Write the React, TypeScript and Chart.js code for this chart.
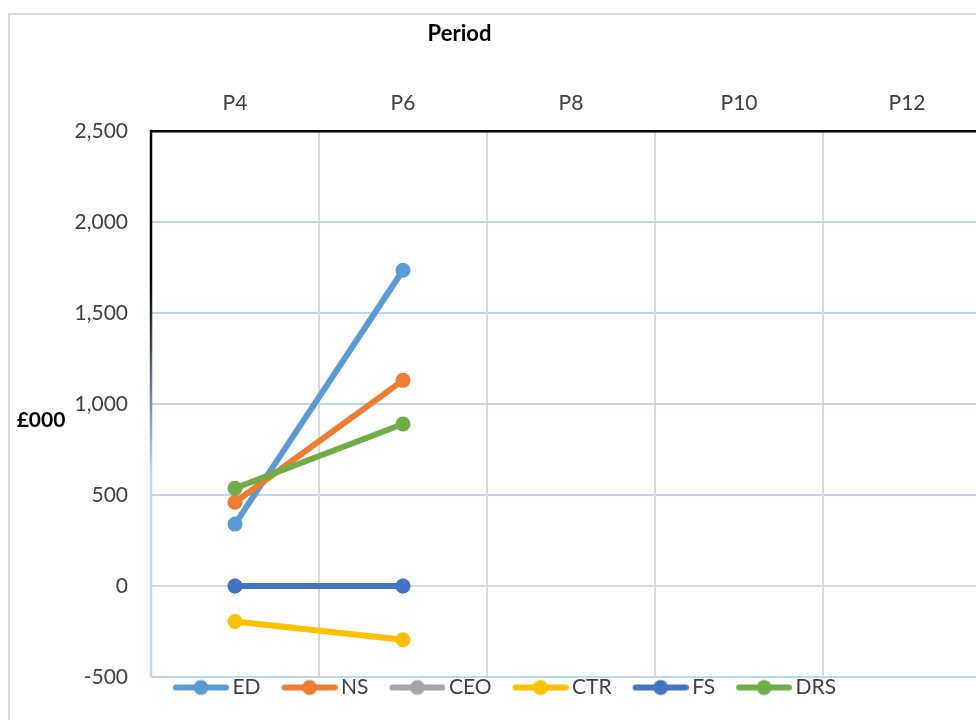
import React, { useEffect, useRef } from "react";
import { Chart, registerables } from "chart.js";

Chart.register(...registerables);

const periods = ["P4", "P6", "P8", "P10", "P12"];
const seriesNames = ["ED", "NS", "CEO", "CTR", "FS", "DRS"];
const seriesColors = ["#5B9BD5", "#ED7D31", "#A5A5A5", "#FFC000", "#4472C4", "#70AD47"];
const edValues = [340, 1735, null, null, null];
const nsValues = [460, 1130, null, null, null];
const ceoValues = [0, 0, null, null, null];
const ctrValues = [-195, -295, null, null, null];
const fsValues = [0, 0, null, null, null];
const drsValues = [537, 890, null, null, null];
const yMin = -500;
const yMax = 2500;
const yStep = 500;
const xTitle = "Period";
const yTitle = "£000";

const FONT = "Lato, 'Open Sans', sans-serif";
const TEXT = "#404040";

function makeLegendIcon(color: string) {
  const c = document.createElement("canvas");
  c.width = 84;
  c.height = 18;
  const g = c.getContext("2d")!;
  g.strokeStyle = color;
  g.lineWidth = 6;
  g.lineCap = "round";
  g.beginPath();
  g.moveTo(31, 9);
  g.lineTo(81, 9);
  g.stroke();
  g.fillStyle = color;
  g.beginPath();
  g.arc(56, 9, 7.5, 0, Math.PI * 2);
  g.fill();
  return c;
}

const decorPlugin = {
  id: "decor",
  afterDraw(chart: any) {
    const { ctx, chartArea: a } = chart;
    ctx.save();
    const grad = ctx.createLinearGradient(0, a.top, 0, a.bottom);
    grad.addColorStop(0, "#000000");
    grad.addColorStop(0.27, "#000000");
    grad.addColorStop(0.62, "#BDD7EE");
    grad.addColorStop(1, "#BDD7EE");
    ctx.strokeStyle = grad;
    ctx.lineWidth = 2.5;
    ctx.beginPath();
    ctx.moveTo(a.left, a.top - 1.25);
    ctx.lineTo(a.left, a.bottom);
    ctx.stroke();
    ctx.fillStyle = "#000";
    ctx.textAlign = "center";
    ctx.textBaseline = "middle";
    ctx.font = `bold 22px ${FONT}`;
    ctx.fillText(xTitle, a.left + 308.5, 19);
    ctx.font = `bold 21px ${FONT}`;
    ctx.fillText(yTitle, a.left - 110, a.top + 289);
    ctx.restore();
  },
};

export default function App() {
  const ref = useRef<HTMLCanvasElement>(null);
  useEffect(() => {
    const canvas = ref.current!;
    const icons = seriesColors.map(makeLegendIcon);
    const seriesValues = [edValues, nsValues, ceoValues, ctrValues, fsValues, drsValues];
    const chart = new Chart(canvas, {
      type: "line",
      data: {
        labels: periods,
        datasets: seriesNames.map((name, i) => ({
          label: name,
          data: seriesValues[i],
          borderColor: seriesColors[i],
          backgroundColor: seriesColors[i],
          borderWidth: 6,
          pointRadius: 7.5,
          pointHoverRadius: 7.5,
          pointBorderWidth: 0,
          pointBackgroundColor: seriesColors[i],
          tension: 0,
          fill: false,
          order: seriesNames.length - i,
          borderCapStyle: "round",
          borderJoinStyle: "round",
        })),
      },
      options: {
        responsive: false,
        animation: false,
        events: [],
        layout: { padding: { left: 0, right: 10, top: 0, bottom: 12 } },
        scales: {
          x: {
            position: "top",
            offset: true,
            grid: { offset: true, color: "#D9D9D9", lineWidth: 2, drawTicks: false },
            border: { display: true, color: "#000000", width: 2.5, z: 1 },
            ticks: {
              font: { size: 21, family: FONT },
              color: TEXT,
              padding: 15,
              autoSkip: false,
              maxRotation: 0,
            },
            afterFit: (s: any) => {
              s.height = 116;
            },
          },
          y: {
            min: yMin,
            max: yMax,
            ticks: {
              stepSize: yStep,
              padding: 23,
              font: { size: 21, family: FONT },
              color: TEXT,
              callback: (v: any) => Number(v).toLocaleString("en-US"),
            },
            grid: {
              color: (c: any) =>
                c.tick && c.tick.value === 0
                  ? "#D9D9D9"
                  : c.tick && c.tick.value === yMax
                  ? "rgba(0,0,0,0)"
                  : "#BDD7EE",
              lineWidth: 2,
              drawTicks: false,
            },
            border: { display: false },
            afterFit: (s: any) => {
              s.width = 154;
            },
          },
        },
        plugins: {
          tooltip: { enabled: false },
          title: { display: false },
          legend: {
            display: true,
            position: "bottom",
            labels: {
              usePointStyle: true,
              pointStyleWidth: 70,
              padding: 0,
              font: { size: 21, family: FONT },
              color: TEXT,
              generateLabels: (ch: any) =>
                ch.data.datasets.map((ds: any, i: number) => ({
                  text: ds.label,
                  fillStyle: ds.borderColor,
                  strokeStyle: ds.borderColor,
                  lineWidth: 0,
                  pointStyle: icons[i],
                  hidden: !ch.isDatasetVisible(i),
                  datasetIndex: i,
                  fontColor: TEXT,
                })),
            },
          },
        },
      } as any,
      plugins: [decorPlugin],
    });
    return () => chart.destroy();
  }, []);

  return (
    <div
      style={{
        position: "fixed",
        left: 0,
        top: 0,
        width: 976,
        height: 720,
        overflow: "hidden",
        background: "#fff",
      }}
    >
      <div
        style={{
          position: "absolute",
          left: 8,
          top: 13,
          width: 1100,
          height: 800,
          border: "2px solid #D9D9D9",
        }}
      />
      <canvas
        ref={ref}
        width={1004}
        height={705}
        style={{ position: "absolute", left: -3, top: 15, width: 1004, height: 705 }}
      />
    </div>
  );
}
